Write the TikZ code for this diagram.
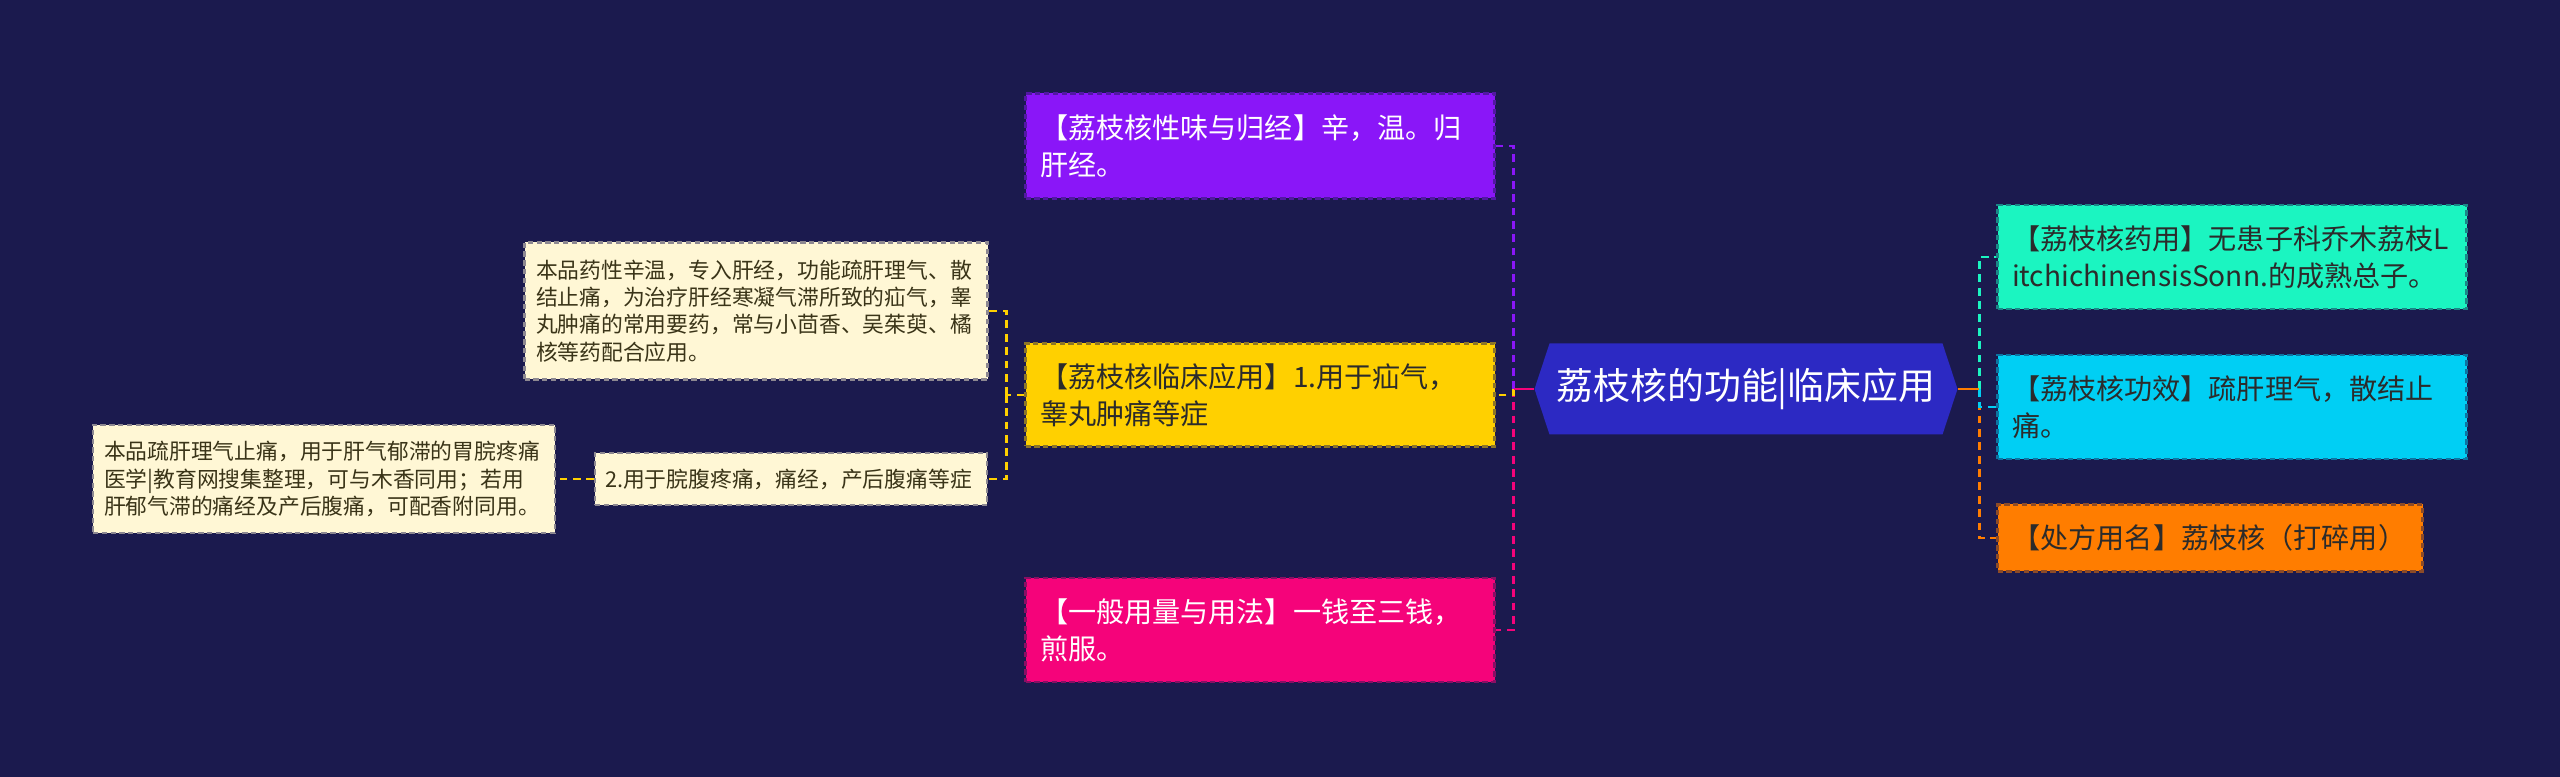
\documentclass[tikz,border=0pt]{standalone}
\usepackage{fontspec}
\setmainfont{Noto Sans CJK SC}
\definecolor{bg}{HTML}{1B1A4E}
\definecolor{rootblue}{HTML}{2C29C3}
\definecolor{purplebox}{HTML}{8A16F8}
\definecolor{yellowbox}{HTML}{FFD000}
\definecolor{pinkbox}{HTML}{F5037A}
\definecolor{tealbox}{HTML}{1BF5C1}
\definecolor{cyanbox}{HTML}{00CFF4}
\definecolor{orangebox}{HTML}{FF7D00}
\definecolor{notefill}{HTML}{FFF7D5}
\definecolor{darktxt}{HTML}{2B2B2B}
\definecolor{notetxt}{HTML}{3A3418}
\usetikzlibrary{calc}

\begin{document}
\begin{tikzpicture}[
    mbox/.style={fill=#1,draw=#1!50!bg,line width=0.6pt,dash pattern=on 1.5pt off 1pt,
      minimum width=4.69cm,minimum height=1.04cm,text width=4.40cm,
      inner xsep=0.145cm,inner ysep=0pt,align=left,
      font=\fontsize{8pt}{10.5pt}\selectfont},
    nbox/.style={fill=notefill,draw=notefill!50!bg,line width=0.6pt,dash pattern=on 1.5pt off 1pt,
      text=notetxt,text width=4.40cm,inner xsep=0.115cm,inner ysep=0pt,align=left,
      font=\fontsize{6.2pt}{7.8pt}\selectfont},
    rootnode/.style={fill=bg,text=white,minimum width=4.23cm,minimum height=0.91cm,
      inner sep=0pt,font=\fontsize{10.5pt}{12pt}\selectfont,
      path picture={\fill[rootblue] (path picture bounding box.west)
        -- ([xshift=0.15cm]path picture bounding box.north west)
        -- ([xshift=-0.15cm]path picture bounding box.north east)
        -- (path picture bounding box.east)
        -- ([xshift=-0.15cm]path picture bounding box.south east)
        -- ([xshift=0.15cm]path picture bounding box.south west) -- cycle;}},
    link/.style={line width=0.75pt,dash pattern=on 2.2pt off 1.6pt},
  ]
    \fill[bg] (0,0) rectangle (25.60,-7.77);

    \node[rootnode] (root) at (17.46,-3.89) {荔枝核的功能|临床应用};

    \node[mbox=purplebox,text=white,minimum height=1.05cm] (taste) at (12.60,-1.46)
      {【荔枝核性味与归经】辛，温。归\\肝经。};
    \node[mbox=yellowbox,text=darktxt,minimum height=1.03cm] (clinic) at (12.60,-3.95)
      {【荔枝核临床应用】1.用于疝气，\\睾丸肿痛等症};
    \node[mbox=pinkbox,text=white] (dose) at (12.60,-6.30)
      {【一般用量与用法】一钱至三钱，\\煎服。};

    \node[mbox=tealbox,text=darktxt] (source) at (22.32,-2.57)
      {【荔枝核药用】无患子科乔木荔枝L\\itchichinensisSonn.的成熟总子。};
    \node[mbox=cyanbox,text=darktxt] (effect) at (22.32,-4.07)
      {【荔枝核功效】疏肝理气，散结止\\痛。};
    \node[mbox=orangebox,text=darktxt,minimum width=4.25cm,minimum height=0.67cm,
      text width=3.95cm,inner xsep=0.15cm] (rxname) at (22.10,-5.38)
      {【处方用名】荔枝核（打碎用）};

    \node[nbox,minimum width=4.63cm,minimum height=1.37cm] (note) at (7.56,-3.11)
      {本品药性辛温，专入肝经，功能疏肝理气、散\\结止痛，为治疗肝经寒凝气滞所致的疝气，睾\\丸肿痛的常用要药，常与小茴香、吴茱萸、橘\\核等药配合应用。};
    \node[nbox,minimum width=3.92cm,minimum height=0.52cm,text width=3.72cm,
      inner xsep=0.10cm] (abdo) at (7.91,-4.79)
      {2.用于脘腹疼痛，痛经，产后腹痛等症};
    \node[nbox,minimum width=4.62cm,minimum height=1.08cm,inner xsep=0.11cm] (liver) at (3.24,-4.79)
      {本品疏肝理气止痛，用于肝气郁滞的胃脘疼痛\\医学|教育网搜集整理，可与木香同用；若用\\肝郁气滞的痛经及产后腹痛，可配香附同用。};

    \coordinate (lj) at ([xshift=-0.20cm]root.west);
    \coordinate (rj) at ([xshift=0.21cm]root.east);
    \coordinate (yj) at ([xshift=-0.18cm]clinic.west);

    \draw[link,purplebox] (lj) |- (taste.east);
    \draw[link,pinkbox] (lj) |- (dose.east);
    \draw[link,yellowbox] (lj) |- (clinic.east);
    \draw[line width=0.75pt,pinkbox] (root.west) -- (lj);

    \draw[link,tealbox] (rj) |- (source.west);
    \draw[link,orangebox] (rj) |- (rxname.west);
    \draw[link,cyanbox] (rj) |- (effect.west);
    \draw[line width=0.75pt,orangebox] (root.east) -- (rj);

    \draw[link,yellowbox] (clinic.west) -- (yj);
    \draw[link,yellowbox] (yj) |- (note.east);
    \draw[link,yellowbox] (yj) |- (abdo.east);
    \draw[link,yellowbox] (abdo.west) -- (liver.east);
  \end{tikzpicture}
\end{document}
